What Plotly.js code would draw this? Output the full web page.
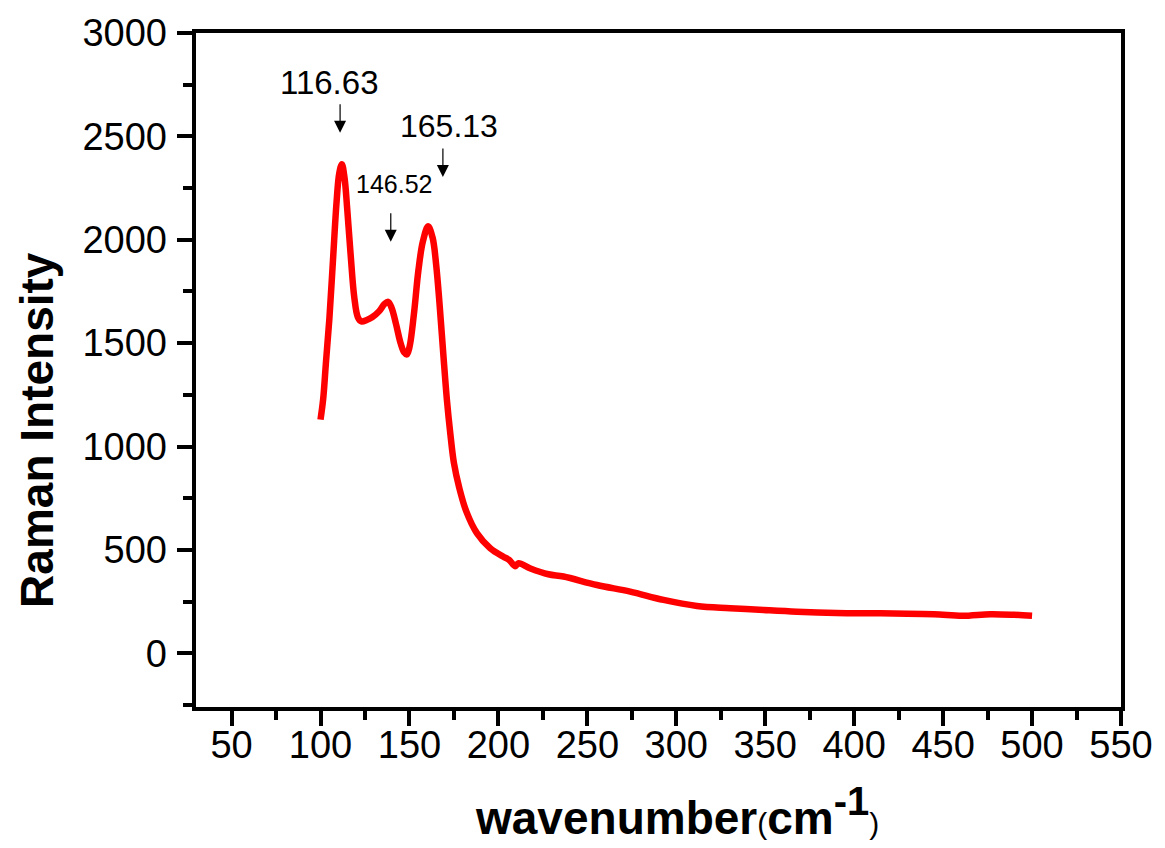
<!DOCTYPE html>
<html>
<head>
<meta charset="utf-8">
<script src="https://cdn.plot.ly/plotly-3.0.1.min.js"></script>
<style>html,body{margin:0;padding:0;background:#fff;}</style>
</head>
<body>
<div id="chart" style="width:1165px;height:848px;"></div>
<script>
// Raman spectrum
const wavenumber = [100, 101.5, 103, 105, 107, 109, 110.5, 112, 113.5, 115, 117, 119,
  121, 123, 126, 129, 133, 136, 138, 140, 142.5, 145, 147, 148.5, 150, 152.5, 155,
  157.5, 160.5, 163, 165, 167, 169, 171, 173, 175, 178, 182, 187.9, 195.4, 202.8,
  206, 209.4, 211.3, 218, 228.1, 236.6, 255.4, 274.1, 292.8, 311.6, 330.3, 349.1,
  367.8, 390, 414.7, 444.7, 460.7, 476.6, 490, 500];
const intensity = [1130, 1230, 1400, 1620, 1900, 2180, 2320, 2365, 2300, 2150, 1920, 1720,
  1625, 1605, 1612, 1625, 1655, 1690, 1700, 1670, 1590, 1500, 1455, 1445, 1480, 1640, 1850,
  1990, 2065, 2010, 1880, 1680, 1450, 1230, 1060, 920, 800, 685, 581, 508, 467,
  452, 421, 435, 410, 382, 371, 330, 298, 258, 229, 218, 209,
  201, 195, 193, 189, 181, 189, 186, 181];

// Peak labels
const peakLabels = ["116.63", "146.52", "165.13"];
const peakArrowX = [111.0, 139.5, 168.8];
const peakArrowY = [2517, 1990, 2304];
const peakTextX = [104.8, 141.1, 172.3];
const peakTextY = [2759, 2270, 2549];
const peakTextSize = [33, 25, 32];

// Axis ticks
const xRange = [30, 550];
const yRange = [-260, 3000];
const xTickVals = [50, 100, 150, 200, 250, 300, 350, 400, 450, 500, 550];
const yTickVals = [0, 500, 1000, 1500, 2000, 2500, 3000];

const FONT = "Arial, 'Liberation Sans', sans-serif";

const trace = {
  x: wavenumber,
  y: intensity,
  type: "scatter",
  mode: "lines",
  line: {color: "#ff0000", width: 6.5, shape: "spline", smoothing: 1},
  hoverinfo: "x+y"
};
// empty trace that only carries the tick-label axes
const labelAxesTrace = {x: [], y: [], xaxis: "x2", yaxis: "y2", type: "scatter", mode: "lines", showlegend: false};

const annotations = [];
for (let i = 0; i < peakLabels.length; i++) {
  annotations.push({
    x: peakTextX[i], y: peakTextY[i], xref: "x", yref: "y",
    text: peakLabels[i], showarrow: false,
    xanchor: "center", yanchor: "middle",
    font: {family: FONT, size: peakTextSize[i], color: "#000"}
  });
  annotations.push({
    x: peakArrowX[i], y: peakArrowY[i], xref: "x", yref: "y",
    text: "", showarrow: true, ax: 0, ay: -30,
    arrowhead: 2, arrowsize: 2, arrowwidth: 1.2, arrowcolor: "#000"
  });
}
annotations.push({
  xref: "paper", yref: "paper", x: 0.52, y: -0.155,
  xanchor: "center", yanchor: "middle", showarrow: false,
  text: "<b>wavenumber</b><span style='font-size:30px'>(</span><b>cm<sup><span style='font-size:40px'>-1</span></sup></b><span style='font-size:30px'>)</span>",
  font: {family: FONT, size: 46, color: "#000"}
});
annotations.push({
  xref: "paper", yref: "paper", x: -0.172, y: 0.411,
  xanchor: "center", yanchor: "middle", showarrow: false, textangle: -90,
  text: "<b>Raman Intensity</b>",
  font: {family: FONT, size: 46, color: "#000"}
});

const tickStyle = {
  showgrid: false, zeroline: false,
  showline: true, linecolor: "#000", linewidth: 4, mirror: true,
  ticks: "outside", ticklen: 15, tickwidth: 4, tickcolor: "#000",
  showticklabels: false
};
const labelStyle = {
  showgrid: false, zeroline: false, showline: false, ticks: "",
  tickfont: {family: FONT, size: 38, color: "#000"}
};

const layout = {
  width: 1165, height: 848,
  margin: {l: 196, r: 44, t: 33, b: 141, pad: 0},
  paper_bgcolor: "#fff", plot_bgcolor: "#fff",
  showlegend: false,
  font: {family: FONT, color: "#000"},
  xaxis: Object.assign({}, tickStyle, {
    range: xRange, tickvals: xTickVals,
    minor: {dtick: 25, tick0: 0, ticks: "outside", ticklen: 9, tickwidth: 4, tickcolor: "#000", showgrid: false}
  }),
  yaxis: Object.assign({}, tickStyle, {
    range: yRange, tickvals: yTickVals,
    minor: {dtick: 250, tick0: 0, ticks: "outside", ticklen: 9, tickwidth: 4, tickcolor: "#000", showgrid: false}
  }),
  xaxis2: Object.assign({}, labelStyle, {
    range: xRange, tickvals: xTickVals, overlaying: "x",
    anchor: "free", position: 0, side: "bottom", ticklabelstandoff: 12
  }),
  yaxis2: Object.assign({}, labelStyle, {
    range: yRange, tickvals: yTickVals, overlaying: "y",
    anchor: "free", position: 0, side: "left", ticklabelstandoff: 29
  }),
  annotations: annotations
};

Plotly.newPlot("chart", [trace, labelAxesTrace], layout, {displayModeBar: false, staticPlot: true});
</script>
</body>
</html>
